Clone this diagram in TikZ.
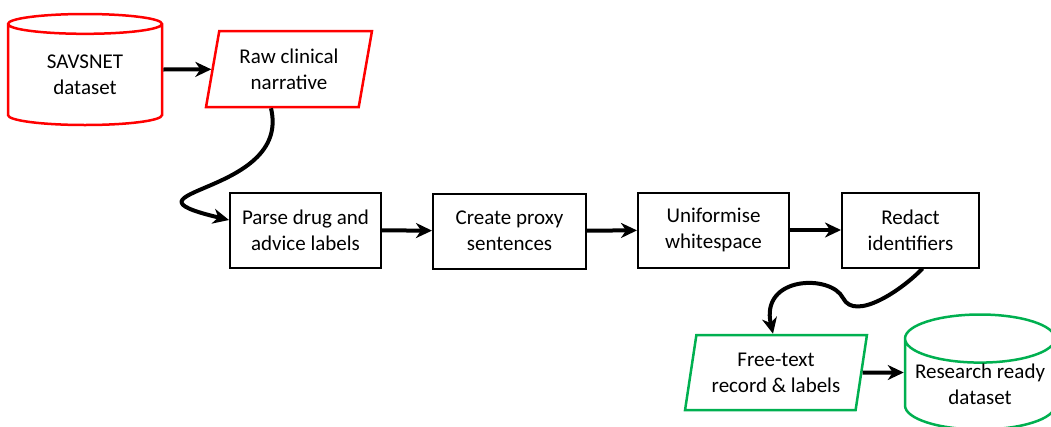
\documentclass[tikz,border=0pt]{standalone}
\usepackage{fontspec}
\setmainfont{Carlito}
\usetikzlibrary{shapes.geometric, arrows.meta}
\definecolor{storered}{RGB}{255,0,0}
\definecolor{storegreen}{RGB}{0,176,80}
\begin{document}
\begin{tikzpicture}[x=1pt, y=-1pt,
    every node/.style={font=\fontsize{21}{26}\selectfont, align=center, inner sep=0pt},
    procbox/.style={draw, line width=2pt, minimum width=151pt, minimum height=75pt},
    store/.style={cylinder, shape border rotate=90, anchor=shape center, draw, line width=2.5pt},
    datain/.style={trapezium, trapezium left angle=77, trapezium right angle=103, trapezium stretches=true, draw, line width=2.5pt, minimum height=76pt},
    flow/.style={-{Stealth[length=16pt, width=15pt, inset=5pt]}, line width=4pt}]
    \useasboundingbox (0,0) rectangle (1051,426);

    \node[store, draw=storered, aspect=0.26, minimum width=154pt, minimum height=111pt] (savsnet) at (85,69.5) {SAVSNET\\dataset};
    \node[datain, draw=storered, minimum width=166pt] (raw) at (289,69) {Raw clinical\\narrative};

    \node[procbox] (parse) at (305.5,230) {Parse drug and\\advice labels};
    \node[procbox, minimum width=153pt] (proxy) at (509.5,231) {Create proxy\\sentences};
    \node[procbox] (unif) at (713.5,230) {Uniformise\\whitespace};
    \node[procbox, minimum width=137pt] (redact) at (910.5,230) {Redact\\identifiers};

    \node[datain, draw=storegreen, minimum width=182pt, minimum height=75pt] (free) at (776,372.5) {Free-text\\record \& labels};
    \node[store, draw=storegreen, aspect=0.37, minimum width=150pt, minimum height=115pt] (ready) at (980,372) {Research ready\\dataset};

    \draw[flow] (savsnet.east |- savsnet.shape center) -- (raw);
    \draw[flow] ([xshift=-18pt]raw.south) .. controls +(21,88) and +(-125,-30) .. ([yshift=10pt]parse.west);
    \draw[flow] (parse) -- (proxy);
    \draw[flow] (proxy) -- (unif);
    \draw[flow] (unif) -- (redact);
    \draw[flow] ([xshift=12pt]redact.south) .. controls +(-20,21) and +(12,24) .. (843,298)
        .. controls +(-12,-24) and +(-13,-58) .. ([xshift=-3pt]free.north);
    \draw[flow] (free) -- (ready.west |- free);
\end{tikzpicture}
\end{document}
